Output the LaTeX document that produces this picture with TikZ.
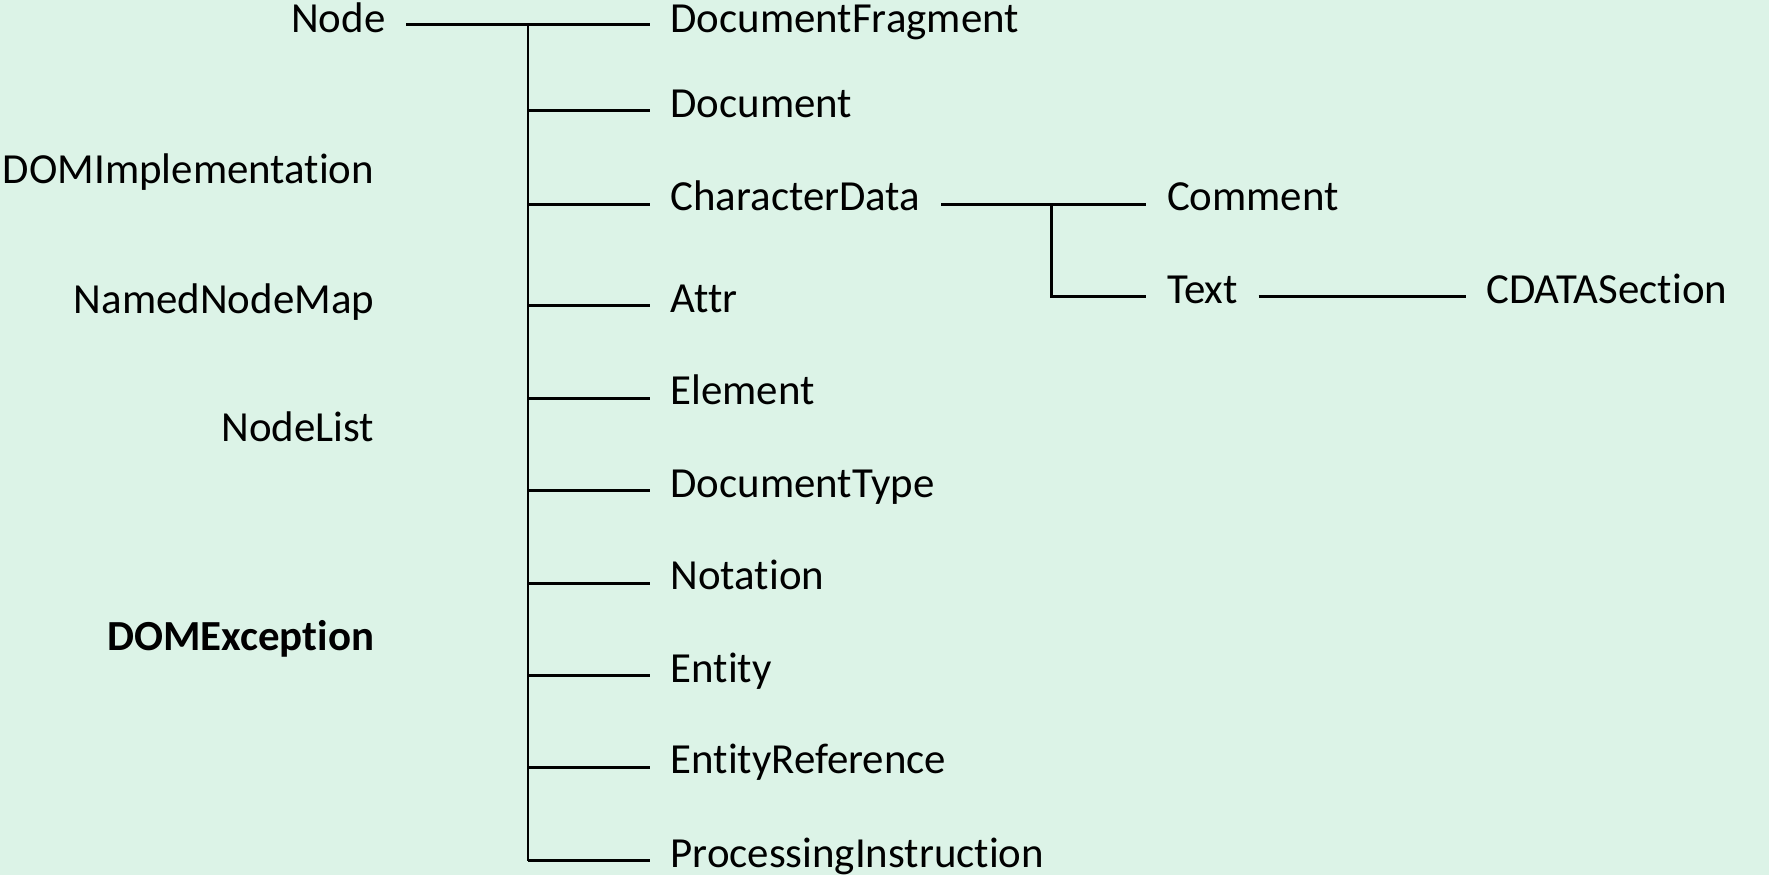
\documentclass[tikz,border=0pt]{standalone}
\usepackage{fontspec}
\setmainfont{Carlito}[Ligatures=NoCommon]
\usetikzlibrary{positioning}
\definecolor{mint}{RGB}{220,243,231}

\begin{document}
\begin{tikzpicture}[
    x=0.5pt, y=-0.5pt,
    every node/.style={font=\fontsize{19}{22}\selectfont, inner xsep=9pt, inner ysep=0pt, text height=0.644em, text depth=0.07em},
    iface/.style={anchor=east},
    cls/.style={anchor=west},
    flat/.style={text depth=0pt},
    link/.style={line width=1.3pt}
]
   \useasboundingbox[fill=mint] (0,0) rectangle (1568,776);

   % Interfaces on the left
   \node[iface, flat] (nd) at (360,22) {Node};
   \node[iface] (domimpl) at (350,157) {DOMImplementation};
   \node[iface] (nnmap) at (350,272) {NamedNodeMap};
   \node[iface] (nlist) at (350,386) {NodeList};
   \node[iface, font=\fontsize{19}{22}\selectfont\bfseries] (domexc) at (350,571) {DOMException};

   % Subclasses of Node
   \node[cls, flat] (frag) at (576,22) {DocumentFragment};
   \node[cls] (doc) at (576,98) {Document};
   \node[cls] (chardata) at (576,181) {CharacterData};
   \node[cls] (attr) at (576,271) {Attr};
   \node[cls] (elem) at (576,353) {Element};
   \node[cls] (doctype) at (576,435) {DocumentType};
   \node[cls] (notation) at (576,517) {Notation};
   \node[cls] (entity) at (576,599) {Entity};
   \node[cls] (entref) at (576,680) {EntityReference};
   \node[cls] (procinst) at (576,763) {ProcessingInstruction};

   % Subclasses of CharacterData
   \node[cls] (comment) at (1016,181) {Comment};
   \node[cls] (text) at (1016,263) {Text};
   \node[cls] (cdata) at (1299,263) {CDATASection};

   % Tree lines
   \coordinate (trunk) at (468,22);
   \coordinate (subtrunk) at (932,181);
   \draw[link] (nd.east) -- (frag.west);
   \draw[link] (trunk) -- (trunk |- procinst.west);
   \foreach \c in {doc, chardata, attr, elem, doctype, notation, entity, entref, procinst}
      \draw[link] (trunk |- \c.west) -- (\c.west);
   \draw[link] (chardata.east) -- (comment.west);
   \draw[link] (subtrunk) |- (text.west);
   \draw[link] (text.east) -- (cdata.west);

\end{tikzpicture}
\end{document}
